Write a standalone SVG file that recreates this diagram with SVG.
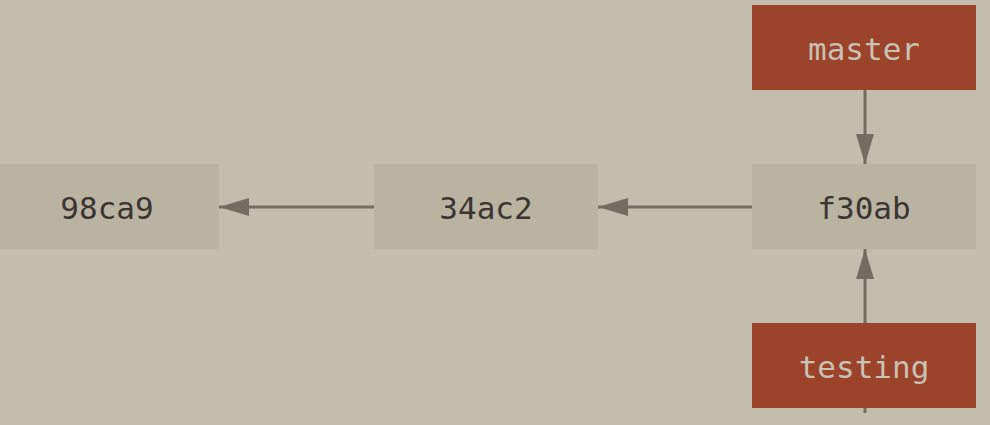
<svg xmlns="http://www.w3.org/2000/svg" width="990" height="425" viewBox="0 0 990 425">
<defs>
<marker id="ah" markerWidth="30" markerHeight="18" refX="30" refY="9" orient="auto" markerUnits="userSpaceOnUse">
<path d="M0,0 L30,9 L0,18 Z" fill="#746c60"/>
</marker>
<style>
.commit{fill:#bab3a2}
.branch{fill:#9b432b}
.t{font-family:"DejaVu Sans Mono",monospace;font-size:31px;text-anchor:middle}
.tc{fill:#3a3530}
.tb{fill:#c9c1b1}
.c{stroke:#746c60;stroke-width:3;fill:none}
</style>
</defs>
<rect width="990" height="425" fill="#c4bdad"/>
<g id="connectors">
<line class="c" x1="374" y1="207" x2="219" y2="207" marker-end="url(#ah)"/>
<line class="c" x1="752" y1="207" x2="598" y2="207" marker-end="url(#ah)"/>
<line class="c" x1="865" y1="90" x2="865" y2="164" marker-end="url(#ah)"/>
<line class="c" x1="865" y1="323" x2="865" y2="249" marker-end="url(#ah)"/>
<line class="c" x1="865" y1="408" x2="865" y2="413"/>
</g>
<g id="n98ca9"><rect class="commit" x="-5" y="164" width="224" height="85"/><text class="t tc" x="107" y="219">98ca9</text></g>
<g id="n34ac2"><rect class="commit" x="374" y="164" width="224" height="85"/><text class="t tc" x="486" y="219">34ac2</text></g>
<g id="nf30ab"><rect class="commit" x="752" y="164" width="224" height="85"/><text class="t tc" x="864" y="219">f30ab</text></g>
<g id="master"><rect class="branch" x="752" y="5" width="224" height="85"/><text class="t tb" x="864" y="60">master</text></g>
<g id="testing"><rect class="branch" x="752" y="323" width="224" height="85"/><text class="t tb" x="864" y="378">testing</text></g>
</svg>
